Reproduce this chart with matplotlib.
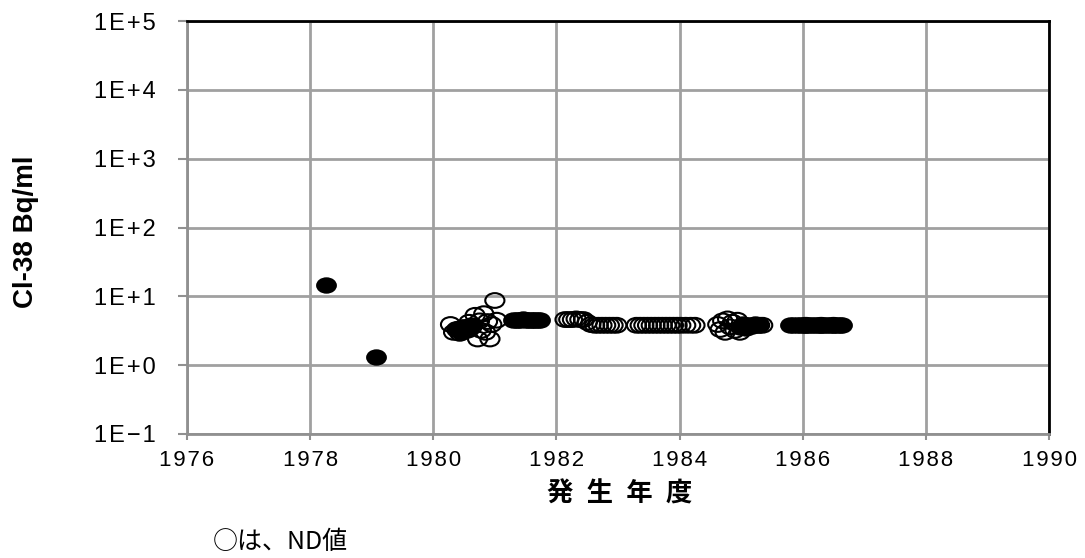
import matplotlib
matplotlib.use("Agg")
import matplotlib.pyplot as plt
from matplotlib.path import Path
from matplotlib.transforms import Affine2D
from matplotlib.ticker import FixedLocator, FixedFormatter

plt.rcParams['font.family'] = ['Liberation Sans', 'DejaVu Sans', 'Noto Sans CJK JP']

# Detected values (filled markers)
det_year = [1978.25, 1979.07,
            1980.38, 1980.45, 1980.50, 1980.55, 1980.62,
            1981.30, 1981.34, 1981.38, 1981.42, 1981.46, 1981.50, 1981.54, 1981.58,
            1981.62, 1981.66, 1981.70, 1981.73,
            1984.98, 1985.03, 1985.08, 1985.13, 1985.18, 1985.23, 1985.28,
            1985.80, 1985.85, 1985.90, 1985.95, 1986.00, 1986.05, 1986.10, 1986.15,
            1986.20, 1986.25, 1986.30, 1986.35, 1986.40, 1986.45, 1986.50, 1986.55,
            1986.60, 1986.64]
det_val = [14.5, 1.3,
           3.4, 3.0, 3.6, 3.2, 3.8,
           4.5, 4.6, 4.5, 4.6, 4.7, 4.6, 4.5, 4.6,
           4.5, 4.6, 4.5, 4.5,
           3.6, 3.9, 3.5, 3.8, 3.7, 3.9, 3.8,
           3.8, 3.8, 3.8, 3.8, 3.8, 3.8, 3.8, 3.8,
           3.8, 3.8, 3.8, 3.8, 3.8, 3.8, 3.8, 3.8,
           3.8, 3.8]

# ND values (open markers)
nd_year = [1980.28, 1980.33, 1980.38, 1980.43, 1980.48, 1980.53, 1980.58, 1980.63,
           1980.68, 1980.72, 1980.75, 1980.78, 1980.82, 1980.85, 1980.88, 1980.92,
           1980.95, 1981.00, 1981.03,
           1982.14, 1982.20, 1982.26, 1982.32, 1982.38, 1982.44, 1982.50,
           1982.56, 1982.62, 1982.68, 1982.74, 1982.80, 1982.86, 1982.92, 1982.98,
           1983.30, 1983.36, 1983.42, 1983.48, 1983.54, 1983.60, 1983.66, 1983.72,
           1983.78, 1983.84, 1983.90, 1983.96, 1984.02, 1984.10, 1984.18, 1984.25,
           1984.62, 1984.66, 1984.70, 1984.74, 1984.78, 1984.82, 1984.86, 1984.90,
           1984.94, 1984.98, 1985.05, 1985.30, 1985.35,
           1986.05, 1986.30, 1986.50]
nd_val = [3.9, 3.0, 3.3, 2.9, 3.5, 3.4, 4.2, 3.6,
          5.3, 2.4, 4.4, 3.2, 5.6, 3.0, 4.3, 2.4,
          3.9, 8.7, 4.5,
          4.6, 4.6, 4.6, 4.7, 4.6, 4.6, 4.2,
          3.9, 3.8, 3.8, 3.8, 3.8, 3.8, 3.8, 3.8,
          3.8, 3.8, 3.8, 3.8, 3.8, 3.8, 3.8, 3.8,
          3.8, 3.8, 3.8, 3.8, 3.8, 3.8, 3.8, 3.8,
          3.9, 3.3, 4.4, 3.0, 4.7, 3.6, 4.2, 3.2,
          4.5, 3.0, 3.5, 3.8, 3.8,
          3.8, 3.8, 3.8]

x_ticks = [1976, 1978, 1980, 1982, 1984, 1986, 1988, 1990]
y_ticks = [0.1, 1, 10, 100, 1000, 10000, 100000]
y_labels = ['1E\u22121', '1E+0', '1E+1', '1E+2', '1E+3', '1E+4', '1E+5']

HS = '\u200a'  # hair space used as letter spacing

fig = plt.figure(figsize=(10.85, 5.58), dpi=100)
ax = fig.add_axes([187/1085, 1 - 434/558, (1049 - 187)/1085, (434 - 21)/558])

ell = Path.unit_circle().transformed(Affine2D().scale(1.3, 1.0))

ax.scatter(nd_year, nd_val, marker=ell, s=190, facecolors='none',
           edgecolors='black', linewidths=1.5, zorder=3)
ax.scatter(det_year, det_val, marker=ell, s=190, facecolors='black',
           edgecolors='black', linewidths=1.2, zorder=4)

ax.set_yscale('log')
ax.set_xlim(1976, 1990)
ax.set_ylim(0.1, 100000)
ax.yaxis.set_major_locator(FixedLocator(y_ticks))
ax.yaxis.set_major_formatter(FixedFormatter([HS.join(s) for s in y_labels]))
ax.yaxis.set_minor_locator(FixedLocator([]))
ax.set_xticks(x_ticks)
ax.set_xticklabels([HS.join(str(v)) for v in x_ticks])

ax.grid(True, color='#a0a0a0', linewidth=2.0)
ax.set_axisbelow(True)
for side in ['left', 'bottom']:
    ax.spines[side].set_color('#909090')
    ax.spines[side].set_linewidth(2.0)
for side in ['top', 'right']:
    ax.spines[side].set_color('black')
    ax.spines[side].set_linewidth(2.0)

ax.tick_params(axis='y', direction='out', length=6.5, width=1.5, color='#909090',
               labelsize=17, pad=16)
ax.tick_params(axis='x', direction='out', length=4.5, width=1.5, color='#909090',
               labelsize=16, pad=7)

fig.text(26/1085, 1 - 232/558, 'Cl-38 Bq/ml', fontsize=20, fontweight='bold',
         rotation=90, ha='center', va='center')

fig.text(620/1085, 1 - 494/558, '発\u2002生\u2002年\u2002度', fontsize=19, fontweight='bold',
         ha='center', va='center', family=['Noto Sans CJK JP', 'DejaVu Sans'])

fig.text(213/1085, 1 - 542/558, '○は、ND値', fontsize=18,
         va='center', ha='left', family=['Noto Sans CJK JP', 'DejaVu Sans'])

fig.savefig('out.png', dpi=100)
